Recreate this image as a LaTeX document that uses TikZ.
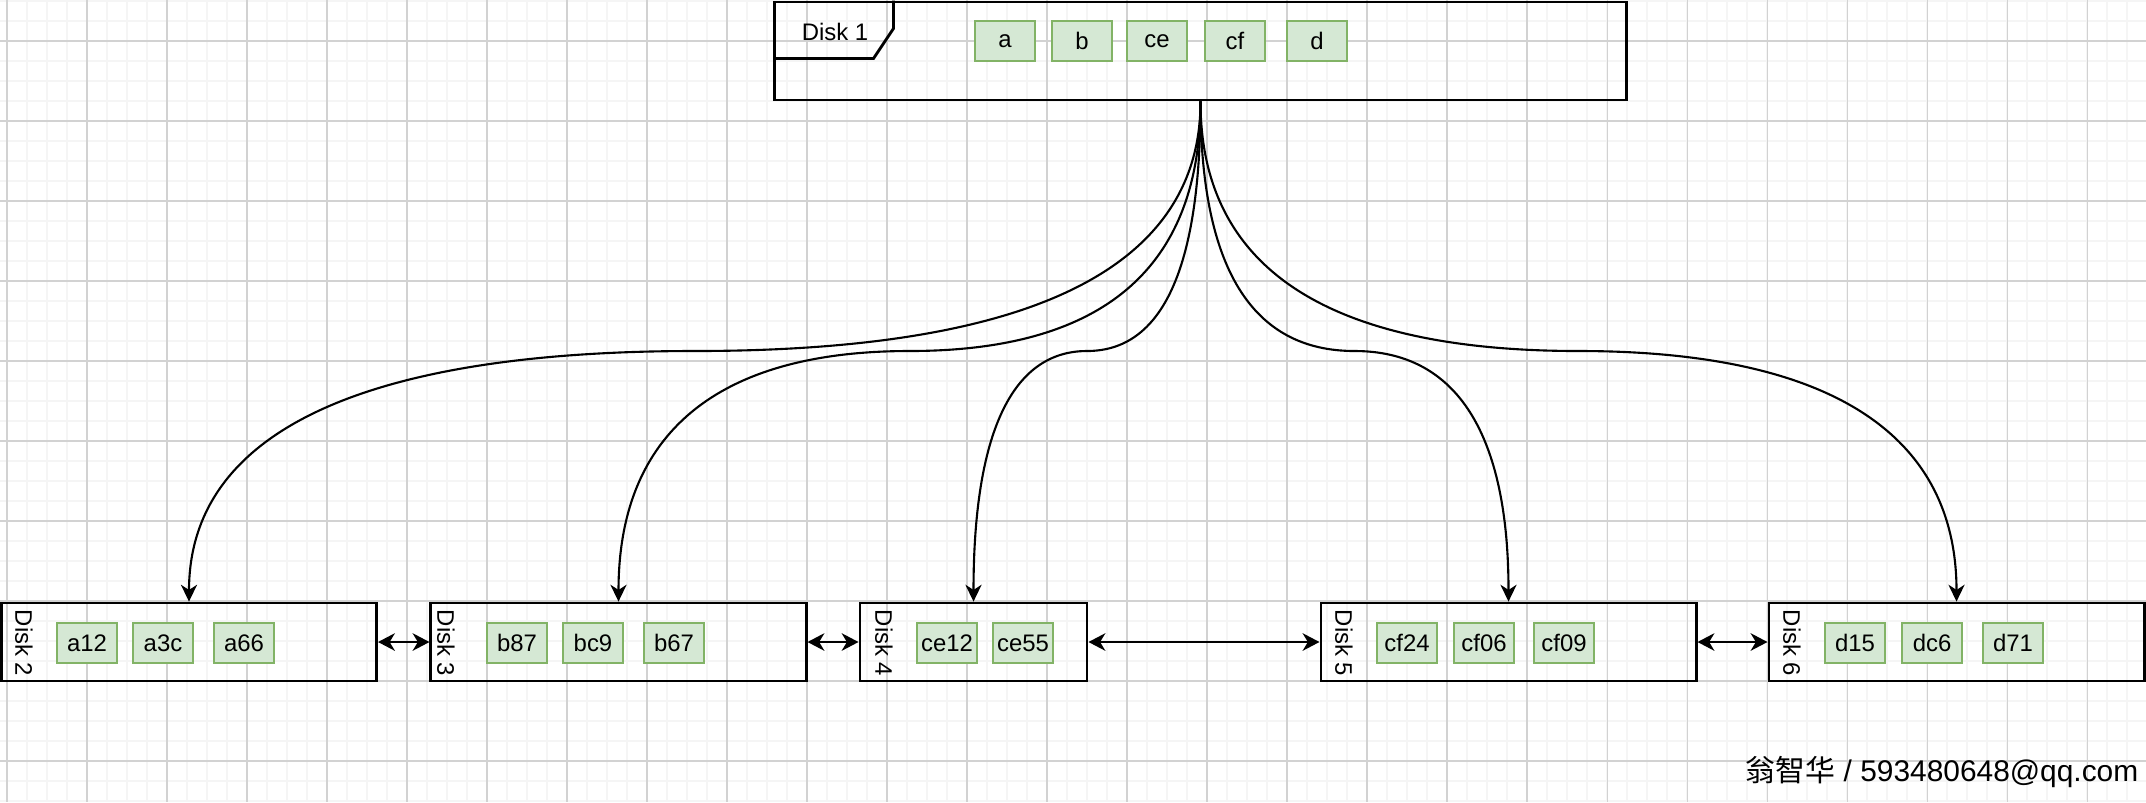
\documentclass[tikz,border=0pt]{standalone}
\usepackage{fontspec}
\setmainfont{Liberation Sans}
\newfontfamily\cjkfont{Noto Sans CJK SC}
\usetikzlibrary{arrows.meta,calc,positioning}
\definecolor{itemfill}{HTML}{D5E8D4}
\definecolor{itemline}{HTML}{82B366}
\definecolor{gridminor}{HTML}{F5F5F5}
\definecolor{gridmajor}{HTML}{D2D2D2}

\begin{document}
\begin{tikzpicture}[x=0.01cm, y=-0.01cm, font=\fontsize{6.8}{8}\selectfont,
  disk/.style={draw, line width=0.8pt, minimum height=0.78cm, inner sep=0pt},
  item/.style={draw=itemline, fill=itemfill, line width=0.55pt,
    minimum width=0.6cm, minimum height=0.4cm, inner sep=0pt},
  link/.style={line width=0.6pt, -{Stealth[length=4.8pt, width=4.6pt, inset=1.5pt]}},
  pair/.style={line width=0.6pt,
    {Stealth[length=4.8pt, width=5pt, inset=1.5pt]}-{Stealth[length=4.8pt, width=5pt, inset=1.5pt]}}]

\useasboundingbox (0,0) rectangle (2146,802);

% Background grid
\foreach \gx in {7,27,...,2147}
  \draw[gridminor, line width=0.55pt] (\gx,0) -- (\gx,802);
\foreach \gy in {1,21,...,801}
  \draw[gridminor, line width=0.55pt] (0,\gy) -- (2146,\gy);
\foreach \gx in {7,87,...,2087}
  \draw[gridmajor, line width=0.3pt] (\gx,0) -- (\gx,802);
\foreach \gy in {41,121,...,761}
  \draw[gridmajor, line width=0.3pt] (0,\gy) -- (2146,\gy);

% Disk 1 with its tab
\node[disk, minimum width=8.51cm, minimum height=0.98cm] (d1) at (1200.5,51) {};
\draw[line width=0.8pt] ([xshift=1.2cm]d1.north west) -- ++(0,28) -- ++(-20,30) -- ++(-100,0);
\node (lbl1) at (835,32) {Disk 1};

\foreach \x/\n in {1005/a, 1082/b, 1157/ce, 1235/cf, 1317/d}
  \node[item] (k\n) at (\x,41) {\n};

% Disks 2-6
\foreach \n/\x/\w in {2/189/3.75, 3/618.5/3.75, 4/973.5/2.27, 5/1508.5/3.75, 6/1956.5/3.75}
  \node[disk, minimum width=\w cm] (d\n) at (\x,642) {};

\foreach \n/\x in {2/24, 3/446, 4/884, 5/1344, 6/1792}
  \node[rotate=-90] (lbl\n) at (\x,643) {Disk \n};

\foreach \n/\x in {a12/87, a3c/163, a66/244, b87/517, bc9/593, b67/674,
  ce12/947, ce55/1023, cf24/1407, cf06/1484, cf09/1564, d15/1855, dc6/1932, d71/2013}
  \node[item] (k\n) at (\x,643) {\n};

% Curved links from Disk 1
\coordinate (midrow) at (0,351);
\foreach \t in {d2,d3,d4,d5,d6}{
  \coordinate (ka) at (d1.south |- midrow);
  \coordinate (kb) at (\t.north |- midrow);
  \coordinate (km) at ($(ka)!0.5!(kb)$);
  \draw[link] (d1.south) .. controls ($(d1.south)!2/3!(ka)$) and ($(km)!2/3!(ka)$) .. (km)
    .. controls ($(km)!2/3!(kb)$) and ($(\t.north)!2/3!(kb)$) .. (\t.north);
}

% Neighbour links
\foreach \a/\b in {d2/d3, d3/d4, d4/d5, d5/d6}
  \draw[pair] (\a.east) -- (\b.west);

\node[anchor=base east, inner sep=0pt, font=\fontsize{8.5}{10}\selectfont] (credit)
  at (2139,781) {{\cjkfont 翁智华} / 593480648@qq.com};

\end{tikzpicture}
\end{document}
